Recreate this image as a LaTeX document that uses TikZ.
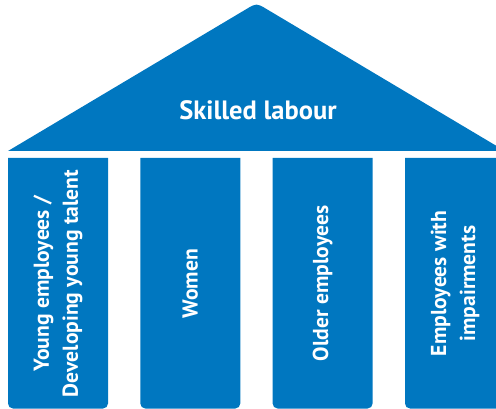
\documentclass[tikz,border=0pt]{standalone}
\usepackage{fontspec}
\setmainfont{PT Sans}
\definecolor{pillarblue}{RGB}{0,119,192}
\begin{document}
\begin{tikzpicture}[x=1pt,y=-1pt,
  shapefill/.style={fill=pillarblue},
  roomtext/.style={text=white, font=\bfseries\fontsize{26.5}{30}\selectfont},
  pillartext/.style={text=white, rotate=90, align=center, inner sep=0pt,
    font=\bfseries\fontsize{21.6}{29}\selectfont}]
\useasboundingbox (0,0) rectangle (496,409);
\clip (0,0) rectangle (496,409);
% roof
\fill[shapefill] (8,151) -- (246.2,9.2) .. controls (256.5,3) .. (266.8,9.2) -- (505,151) -- cycle;
\node[roomtext] (roof) at (258,110) {Skilled labour};
% pillars
\foreach \i/\x in {1/8,2/140.3,3/272.6,4/405} {
  \fill[shapefill] (\x,158) -- (\x+100,158) [rounded corners=5pt] -- (\x+100,408.5) -- (\x,408.5) [sharp corners] -- cycle;
  \coordinate (p\i) at (\x+50,283.5);
}
\node[pillartext] (t1) at (p1) {Young employees /\\Developing young talent};
\node[pillartext] (t2) at (p2) {Women};
\node[pillartext] (t3) at (p3) {Older employees};
\node[pillartext] (t4) at (p4) {Employees with\\impairments};
\end{tikzpicture}
\end{document}
